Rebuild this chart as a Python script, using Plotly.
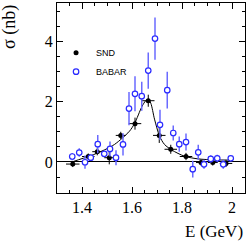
import plotly.graph_objects as go

# SND data
snd_e = [1.363, 1.425, 1.461, 1.509, 1.555, 1.612, 1.665, 1.709, 1.755, 1.816, 1.876, 1.923, 1.976]
snd_s = [-0.07, 0.18, 0.34, 0.14, 0.88, 1.27, 2.03, 0.88, 0.42, 0.18, -0.02, -0.02, -0.05]
snd_ds = [0.10, 0.10, 0.12, 0.22, 0.12, 0.20, 0.20, 0.25, 0.15, 0.12, 0.10, 0.10, 0.12]
snd_de = [0.027, 0.025, 0.02, 0.02, 0.02, 0.025, 0.025, 0.025, 0.025, 0.025, 0.02, 0.02, 0.025]

# BABAR data
bab_e = [1.361, 1.389, 1.412, 1.435, 1.463, 1.489, 1.512, 1.536, 1.564, 1.588, 1.612, 1.639, 1.665,
         1.692, 1.712, 1.741, 1.765, 1.789, 1.816, 1.843, 1.865, 1.888, 1.915, 1.941, 1.965, 1.995]
bab_s = [0.18, 0.31, -0.01, 0.14, 0.59, 0.27, 0.43, 0.14, 0.58, 1.77, 2.26, 2.18, 3.03,
         4.09, 1.23, 2.38, 0.96, 0.59, 0.66, -0.24, 0.32, -0.08, 0.10, 0.12, -0.08, 0.12]
bab_ds = [0.12, 0.14, 0.22, 0.10, 0.30, 0.10, 0.25, 0.25, 0.37, 0.55, 0.58, 0.48, 0.60,
          0.70, 0.50, 0.61, 0.25, 0.25, 0.28, 0.28, 0.25, 0.15, 0.12, 0.12, 0.15, 0.07]

# Fit curve
fit_e = [1.36, 1.40, 1.43, 1.46, 1.50, 1.53, 1.56, 1.59, 1.61, 1.64, 1.655, 1.665, 1.675,
         1.69, 1.71, 1.73, 1.76, 1.81, 1.865, 1.93, 2.0]
fit_s = [0.0, 0.11, 0.19, 0.29, 0.44, 0.58, 0.78, 1.02, 1.27, 1.84, 2.03, 2.07, 1.95,
         1.42, 0.86, 0.58, 0.39, 0.19, 0.10, 0.07, 0.06]

x_ticks = [1.4, 1.6, 1.8, 2.0]
x_ticklabels = ["1.4", "1.6", "1.8", "2"]
y_ticks = [0, 2, 4]
y_ticklabels = ["0", "2", "4"]

fig = go.Figure()
fig.add_trace(go.Scatter(x=fit_e, y=fit_s, mode="lines", line=dict(color="black", width=1, shape="spline", smoothing=0.8),
                         showlegend=False, hoverinfo="skip"))
fig.add_trace(go.Scatter(x=snd_e, y=snd_s, mode="markers", name="SND",
                         marker=dict(color="black", size=5, symbol="circle"),
                         error_y=dict(type="data", array=snd_ds, color="black", thickness=1, width=0),
                         error_x=dict(type="data", array=snd_de, color="black", thickness=1, width=0)))
fig.add_trace(go.Scatter(x=bab_e, y=bab_s, mode="markers", name="BABAR",
                         marker=dict(color="white", size=5.5, symbol="circle", line=dict(color="#2a2aff", width=1.2)),
                         error_y=dict(type="data", array=bab_ds, color="#6a6aff", thickness=1.5, width=0)))

serif = "Liberation Serif, Times New Roman, serif"
fig.update_layout(
    width=249, height=245,
    margin=dict(l=57, r=4, t=3, b=52, autoexpand=False),
    paper_bgcolor="white", plot_bgcolor="white",
    showlegend=True,
    legend=dict(x=-0.005, y=0.815, xanchor="left", yanchor="top", bgcolor="rgba(0,0,0,0)",
                font=dict(family="Liberation Sans, Arial, sans-serif", size=9, color="black"),
                itemwidth=30, tracegroupgap=0, traceorder="normal"),
    xaxis=dict(range=[1.3, 2.052], tickmode="array", tickvals=x_ticks, ticktext=x_ticklabels,
               ticks="inside", ticklen=6, automargin=False,
               tickcolor="black", showline=True, linecolor="black", linewidth=1, mirror="ticks",
               showgrid=False, zeroline=False,
               tickfont=dict(family=serif, size=16, color="black"),
               minor=dict(tickmode="linear", tick0=1.3, dtick=0.05, ticks="inside", ticklen=3,
                          tickcolor="black", showgrid=False)),
    yaxis=dict(range=[-1.03, 5.27], tickmode="array", tickvals=y_ticks, ticktext=y_ticklabels,
               ticks="inside", ticklen=6, automargin=False,
               tickcolor="black", showline=True, linecolor="black", linewidth=1, mirror="ticks",
               showgrid=False, zeroline=True, zerolinecolor="black", zerolinewidth=1,
               tickfont=dict(family=serif, size=16, color="black"),
               minor=dict(tickmode="linear", tick0=0, dtick=0.5, ticks="inside", ticklen=3,
                          tickcolor="black", showgrid=False)),
    annotations=[
        dict(text="σ (nb)", xref="paper", yref="paper", x=-0.255, y=1.0, xanchor="center", yanchor="top",
             textangle=-90, showarrow=False, font=dict(family=serif, size=18, color="black")),
        dict(text="E (GeV)", xref="paper", yref="paper", x=1.0, y=-0.205, xanchor="right", yanchor="middle",
             showarrow=False, font=dict(family=serif, size=17, color="black")),
    ],
)
fig.write_html("out.html", config={"displayModeBar": False},
               post_script="document.body.style.margin='0';document.body.style.padding='0';")
